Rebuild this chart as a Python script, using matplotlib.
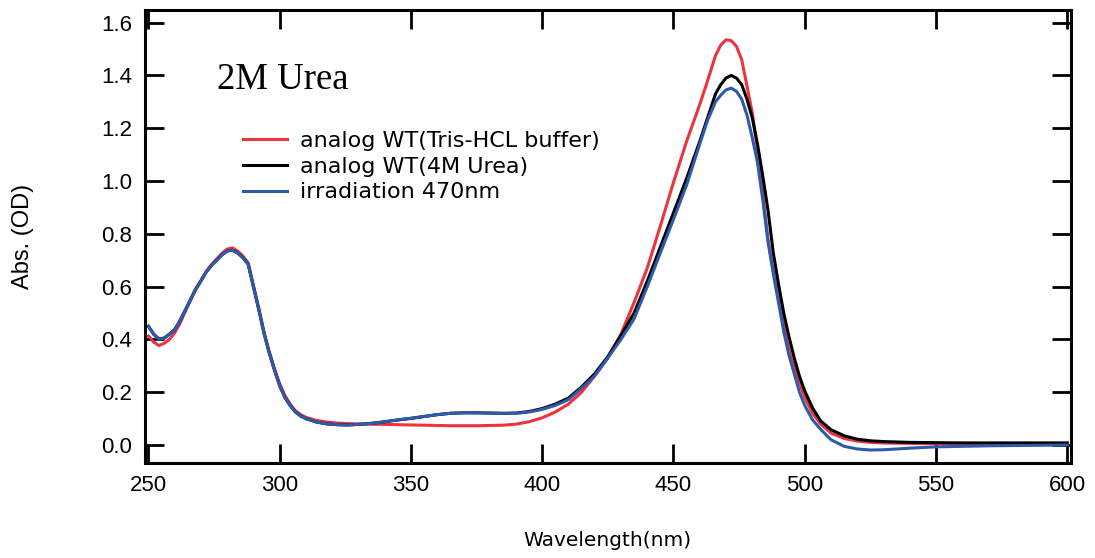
import matplotlib
matplotlib.use("Agg")
import matplotlib.pyplot as plt

# ---------------- data ----------------
wavelength = [250, 252, 254, 256, 258, 260, 262, 264, 266, 268, 270, 272, 274, 276, 278,
              280, 282, 284, 286, 288, 290, 292, 294, 296, 298, 300, 302, 304, 306, 308,
              310, 314, 318, 322, 326, 330, 335, 340, 345, 350, 355, 360, 365, 370, 375,
              380, 385, 390, 395, 400, 405, 410, 415, 420, 425, 430, 435, 440, 445, 450,
              455, 460, 463, 466, 468, 470, 472, 474, 476, 478, 480, 482, 484, 486, 488,
              490, 492, 494, 496, 498, 500, 503, 506, 510, 515, 520, 525, 530, 540, 550,
              560, 570, 580, 590, 600]

abs_tris = [0.413, 0.390, 0.377, 0.385, 0.400, 0.425, 0.460, 0.505, 0.548, 0.590, 0.622, 0.657, 0.683, 0.705, 0.726,
            0.742, 0.747, 0.735, 0.716, 0.690, 0.605, 0.520, 0.430, 0.355, 0.290, 0.232, 0.187, 0.155, 0.130, 0.115,
            0.105, 0.093, 0.087, 0.083, 0.081, 0.080, 0.079, 0.078, 0.077, 0.076, 0.075, 0.074, 0.073, 0.073, 0.073,
            0.074, 0.075, 0.079, 0.088, 0.103, 0.125, 0.155, 0.200, 0.262, 0.330, 0.420, 0.540, 0.670, 0.830, 0.995,
            1.150, 1.290, 1.380, 1.475, 1.515, 1.535, 1.532, 1.510, 1.460, 1.360, 1.260, 1.120, 0.950, 0.780, 0.660,
            0.560, 0.450, 0.360, 0.290, 0.235, 0.180, 0.120, 0.080, 0.045, 0.025, 0.015, 0.010, 0.008, 0.006, 0.005,
            0.004, 0.004, 0.003, 0.003, 0.003]

abs_urea = [0.450, 0.420, 0.402, 0.405, 0.420, 0.437, 0.470, 0.510, 0.550, 0.590, 0.622, 0.655, 0.680, 0.700, 0.720,
            0.735, 0.738, 0.727, 0.710, 0.685, 0.600, 0.515, 0.425, 0.350, 0.285, 0.225, 0.180, 0.150, 0.125, 0.110,
            0.100, 0.087, 0.080, 0.077, 0.076, 0.078, 0.082, 0.088, 0.095, 0.101, 0.108, 0.115, 0.120, 0.122, 0.122,
            0.121, 0.120, 0.121, 0.127, 0.138, 0.155, 0.178, 0.220, 0.270, 0.335, 0.415, 0.500, 0.620, 0.750, 0.880,
            1.010, 1.150, 1.240, 1.330, 1.365, 1.390, 1.400, 1.390, 1.365, 1.310, 1.240, 1.140, 1.020, 0.890, 0.730,
            0.610, 0.500, 0.410, 0.330, 0.260, 0.205, 0.140, 0.092, 0.058, 0.035, 0.022, 0.016, 0.013, 0.010, 0.009,
            0.008, 0.008, 0.008, 0.008, 0.008]

abs_irr = [0.450, 0.420, 0.400, 0.405, 0.420, 0.435, 0.470, 0.510, 0.550, 0.590, 0.620, 0.655, 0.680, 0.700, 0.720,
           0.735, 0.738, 0.727, 0.710, 0.685, 0.600, 0.515, 0.425, 0.350, 0.285, 0.225, 0.180, 0.150, 0.125, 0.110,
           0.100, 0.087, 0.080, 0.077, 0.076, 0.078, 0.082, 0.088, 0.095, 0.101, 0.108, 0.115, 0.120, 0.122, 0.122,
           0.121, 0.120, 0.120, 0.125, 0.135, 0.150, 0.172, 0.215, 0.262, 0.330, 0.400, 0.478, 0.600, 0.728, 0.855,
           0.985, 1.140, 1.230, 1.300, 1.325, 1.345, 1.352, 1.340, 1.310, 1.250, 1.165, 1.070, 0.930, 0.770, 0.650,
           0.540, 0.430, 0.340, 0.270, 0.200, 0.150, 0.095, 0.060, 0.020, -0.005, -0.015, -0.019, -0.018, -0.012, -0.007,
           -0.005, -0.003, -0.002, -0.001, 0.000]

series_labels = ["analog WT(Tris-HCL buffer)", "analog WT(4M Urea)", "irradiation 470nm"]
x_ticks = [250, 300, 350, 400, 450, 500, 550, 600]
y_ticks = [0.0, 0.2, 0.4, 0.6, 0.8, 1.0, 1.2, 1.4, 1.6]
x_title = "Wavelength(nm)"
y_title = "Abs. (OD)"
annotation = "2M Urea"

# ---------------- figure ----------------
fig = plt.figure(figsize=(10.95, 5.58), dpi=100)
ax = fig.add_axes([0.1324, 0.1708, 0.8454, 0.8113])

ax.plot(wavelength, abs_tris, color="#EE3340", lw=2.2, label=series_labels[0])
ax.plot(wavelength, abs_urea, color="black", lw=2.2, label=series_labels[1])
ax.plot(wavelength, abs_irr, color="#2D5AAA", lw=2.2, label=series_labels[2])

ax.set_xlim(248.7, 601.3)
ax.set_ylim(-0.067, 1.648)
ax.set_xticks(x_ticks)
ax.set_yticks(y_ticks)
ax.set_xticklabels([str(v) for v in x_ticks])
ax.set_yticklabels([f"{v:.1f}" for v in y_ticks])

for s in ax.spines.values():
    s.set_linewidth(2.2)
ax.tick_params(direction="in", length=13.5, width=2.0, top=True, right=True,
               labelsize=16, pad=9)
for lab in ax.get_xticklabels() + ax.get_yticklabels():
    lab.set_fontfamily("Liberation Sans")

fig.text(0.555, 0.032, x_title, ha="center", va="center",
         fontsize=14.5, family="DejaVu Sans")
fig.text(0.021, 0.577, y_title, ha="center", va="center", rotation=90,
         fontsize=17, family="Liberation Sans")

ax.text((217 - 145) / 925.7, (462.7 - 89) / 452.7, annotation, transform=ax.transAxes,
        fontsize=26.5, family="Liberation Serif", ha="left", va="baseline")

leg = ax.legend(loc="upper left", bbox_to_anchor=(0.1059, 0.733), frameon=False,
                prop={"family": "DejaVu Sans", "size": 16}, handlelength=1.98,
                handletextpad=0.59, labelspacing=0.26, borderpad=0, borderaxespad=0)

fig.savefig("out.png", dpi=100)
